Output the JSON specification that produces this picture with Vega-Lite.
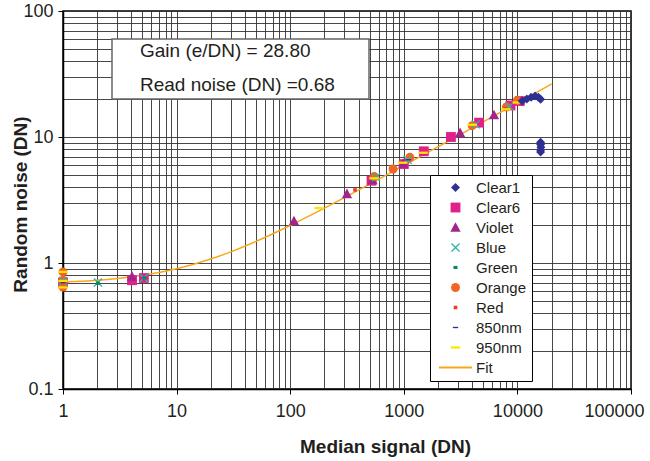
{
  "$schema": "https://vega.github.io/schema/vega-lite/v6.json",
  "width": 568,
  "height": 378,
  "autosize": {"type": "none"},
  "padding": {"left": 63, "top": 11, "right": 19, "bottom": 72},
  "background": "white",
  "datasets": {
    "pts": [
      {"series": "Clear6", "signal": 1, "noise": 0.70},
      {"series": "Clear6", "signal": 4.05, "noise": 0.73},
      {"series": "Clear6", "signal": 5.15, "noise": 0.76},
      {"series": "Clear6", "signal": 520, "noise": 4.5},
      {"series": "Clear6", "signal": 1000, "noise": 6.1},
      {"series": "Clear6", "signal": 1500, "noise": 7.7},
      {"series": "Clear6", "signal": 2600, "noise": 10.0},
      {"series": "Clear6", "signal": 4600, "noise": 13.0},
      {"series": "Clear6", "signal": 8700, "noise": 17.8},
      {"series": "Clear6", "signal": 10500, "noise": 19.3},
      {"series": "Violet", "signal": 4.05, "noise": 0.78},
      {"series": "Violet", "signal": 108, "noise": 2.15},
      {"series": "Violet", "signal": 316, "noise": 3.53},
      {"series": "Violet", "signal": 530, "noise": 4.55},
      {"series": "Violet", "signal": 990, "noise": 6.15},
      {"series": "Violet", "signal": 3130, "noise": 10.76},
      {"series": "Violet", "signal": 6220, "noise": 14.95},
      {"series": "Orange", "signal": 1, "noise": 0.85},
      {"series": "Orange", "signal": 1, "noise": 0.73},
      {"series": "Orange", "signal": 1, "noise": 0.645},
      {"series": "Orange", "signal": 550, "noise": 4.85},
      {"series": "Orange", "signal": 804, "noise": 5.57},
      {"series": "Orange", "signal": 1130, "noise": 6.9},
      {"series": "Orange", "signal": 4000, "noise": 12.3},
      {"series": "Orange", "signal": 8000, "noise": 17.3},
      {"series": "Orange", "signal": 10000, "noise": 19.5},
      {"series": "Blue", "signal": 1, "noise": 0.72},
      {"series": "Blue", "signal": 2.03, "noise": 0.70},
      {"series": "Blue", "signal": 5.15, "noise": 0.76},
      {"series": "Blue", "signal": 570, "noise": 4.8},
      {"series": "Blue", "signal": 1080, "noise": 6.6},
      {"series": "Blue", "signal": 4300, "noise": 12.6},
      {"series": "Blue", "signal": 8500, "noise": 17.5},
      {"series": "Green", "signal": 2.03, "noise": 0.69},
      {"series": "Green", "signal": 5.2, "noise": 0.76},
      {"series": "Red", "signal": 1, "noise": 0.70},
      {"series": "Red", "signal": 372, "noise": 3.8},
      {"series": "Red", "signal": 7800, "noise": 16.8},
      {"series": "850nm", "signal": 1, "noise": 0.70},
      {"series": "850nm", "signal": 1100, "noise": 6.6},
      {"series": "950nm", "signal": 1, "noise": 0.85},
      {"series": "950nm", "signal": 1, "noise": 0.72},
      {"series": "950nm", "signal": 1, "noise": 0.64},
      {"series": "950nm", "signal": 179, "noise": 2.73},
      {"series": "950nm", "signal": 545, "noise": 4.7},
      {"series": "950nm", "signal": 980, "noise": 6.25},
      {"series": "950nm", "signal": 1480, "noise": 7.5},
      {"series": "950nm", "signal": 4000, "noise": 12.5},
      {"series": "950nm", "signal": 7900, "noise": 16.6},
      {"series": "950nm", "signal": 10000, "noise": 18.8},
      {"series": "Clear1", "signal": 11000, "noise": 19.3},
      {"series": "Clear1", "signal": 12100, "noise": 20.0},
      {"series": "Clear1", "signal": 13200, "noise": 20.7},
      {"series": "Clear1", "signal": 14300, "noise": 21.2},
      {"series": "Clear1", "signal": 15300, "noise": 20.7},
      {"series": "Clear1", "signal": 16000, "noise": 19.9},
      {"series": "Clear1", "signal": 16000, "noise": 9.1},
      {"series": "Clear1", "signal": 16000, "noise": 8.7},
      {"series": "Clear1", "signal": 16100, "noise": 8.3},
      {"series": "Clear1", "signal": 16000, "noise": 7.9},
      {"series": "Clear1", "signal": 16000, "noise": 7.6}
    ],
    "fit": [
      {"signal": 1, "noise": 0.705},
      {"signal": 2, "noise": 0.729},
      {"signal": 3, "noise": 0.753},
      {"signal": 5, "noise": 0.798},
      {"signal": 10, "noise": 0.900},
      {"signal": 20, "noise": 1.076},
      {"signal": 30, "noise": 1.226},
      {"signal": 50, "noise": 1.483},
      {"signal": 100, "noise": 1.984},
      {"signal": 200, "noise": 2.722},
      {"signal": 300, "noise": 3.298},
      {"signal": 500, "noise": 4.222},
      {"signal": 1000, "noise": 5.931},
      {"signal": 2000, "noise": 8.361},
      {"signal": 3000, "noise": 10.229},
      {"signal": 5000, "noise": 13.19},
      {"signal": 7000, "noise": 15.605},
      {"signal": 10000, "noise": 18.65},
      {"signal": 15000, "noise": 22.83},
      {"signal": 20000, "noise": 26.36}
    ],
    "box": [
      {"signal": 2.7, "signal2": 494, "noise": 20, "noise2": 60}
    ],
    "notes": [
      {"signal": 4.76, "noise": 48.2, "text": "Gain (e/DN) = 28.80"},
      {"signal": 4.76, "noise": 25.9, "text": "Read noise (DN) =0.68"}
    ]
  },
  "encoding": {
    "x": {
      "field": "signal",
      "type": "quantitative",
      "scale": {"type": "log", "domain": [1, 100000], "nice": false},
      "axis": {
        "title": "Median signal (DN)",
        "values": [1,2,3,4,5,6,7,8,9,10,20,30,40,50,60,70,80,90,100,200,300,400,500,600,700,800,900,1000,2000,3000,4000,5000,6000,7000,8000,9000,10000,20000,30000,40000,50000,60000,70000,80000,90000,100000],
        "labelExpr": "abs(log(datum.value)/LN10 - round(log(datum.value)/LN10)) < 0.001 ? format(datum.value, '~g') : ''",
        "labelOffset": {"condition": {"test": "datum.value > 50000", "value": -17}, "value": 0},
        "tickOpacity": {"condition": {"test": "abs(log(datum.value)/LN10 - round(log(datum.value)/LN10)) < 0.001", "value": 1}, "value": 0},
        "tickSize": 5,
        "labelPadding": 8,
        "titleX": 322,
        "titleY": 63,
        "titleBaseline": "alphabetic",
        "titleAlign": "center"
      }
    },
    "y": {
      "field": "noise",
      "type": "quantitative",
      "scale": {"type": "log", "domain": [0.1, 100], "nice": false},
      "axis": {
        "title": "Random noise (DN)",
        "values": [0.1,0.2,0.3,0.4,0.5,0.6,0.7,0.8,0.9,1,2,3,4,5,6,7,8,9,10,20,30,40,50,60,70,80,90,100],
        "labelExpr": "abs(log(datum.value)/LN10 - round(log(datum.value)/LN10)) < 0.001 ? format(datum.value, '~g') : ''",
        "tickOpacity": {"condition": {"test": "abs(log(datum.value)/LN10 - round(log(datum.value)/LN10)) < 0.001", "value": 1}, "value": 0},
        "tickSize": 5,
        "labelPadding": 5,
        "titleX": -43,
        "titleY": 193,
        "titleAngle": 270,
        "titleBaseline": "middle",
        "titleAlign": "center"
      }
    }
  },
  "layer": [
    {
      "data": {"name": "box"},
      "mark": {"type": "rect", "fill": "white", "stroke": "#666666", "strokeWidth": 1.5},
      "encoding": {
        "x2": {"field": "signal2"},
        "y2": {"field": "noise2"}
      }
    },
    {
      "data": {"name": "notes"},
      "mark": {"type": "text", "align": "left", "baseline": "middle", "font": "Liberation Sans", "fontSize": 19, "color": "#231F20"},
      "encoding": {
        "text": {"field": "text"}
      }
    },
    {
      "data": {"name": "fit"},
      "mark": {"type": "line", "stroke": "#F9A61A", "strokeWidth": 1.5, "interpolate": "monotone"},
      "encoding": {}
    },
    {
      "data": {"name": "pts"},
      "mark": {"type": "point", "filled": true, "size": 80, "opacity": 1, "strokeWidth": 0},
      "encoding": {
        "color": {
          "field": "series",
          "type": "nominal",
          "title": null,
          "scale": {
            "domain": ["Clear1","Clear6","Violet","Blue","Green","Orange","Red","850nm","950nm","Fit"],
            "range": ["#2E3192","#E0218A","#A3248C","#2BB5AA","#0A8A5C","#F26522","#EE3B2B","#2E3192","#FFE500","#F9A61A"]
          }
        },
        "shape": {
          "field": "series",
          "type": "nominal",
          "title": null,
          "scale": {
            "domain": ["Clear1","Clear6","Violet","Blue","Green","Orange","Red","850nm","950nm","Fit"],
            "range": [
              "diamond",
              "M-1.1,-1.1H1.1V1.1H-1.1Z",
              "M0,-1.2L1.15,0.95H-1.15Z",
              "M-1,-0.8L-0.8,-1L0,-0.2L0.8,-1L1,-0.8L0.2,0L1,0.8L0.8,1L0,0.2L-0.8,1L-1,0.8L-0.2,0Z",
              "M-0.45,-0.35H0.45V0.35H-0.45Z",
              "circle",
              "M-0.4,-0.4H0.4V0.4H-0.4Z",
              "M-0.6,-0.15H0.6V0.15H-0.6Z",
              "M-1.05,-0.25H1.05V0.25H-1.05Z",
              "M-3.7,-0.2H3.7V0.2H-3.7Z"
            ]
          }
        }
      }
    }
  ],
  "config": {
    "view": {"stroke": "black", "strokeWidth": 1.5},
    "axis": {
      "grid": true,
      "gridColor": "#333333",
      "gridWidth": 1,
      "gridOpacity": 0.9,
      "domainColor": "black",
      "domainWidth": 1.5,
      "tickColor": "black",
      "labelFont": "Liberation Sans",
      "labelFontSize": 18,
      "labelColor": "#231F20",
      "labelOverlap": false,
      "labelBound": false,
      "labelFlush": false,
      "titleFont": "Liberation Sans",
      "titleFontSize": 19,
      "titleFontWeight": "bold",
      "titleColor": "#231F20"
    },
    "legend": {
      "orient": "none",
      "legendX": 367,
      "legendY": 164,
      "strokeColor": "black",
      "fillColor": "white",
      "padding": 5,
      "labelFont": "Liberation Sans",
      "labelFontSize": 15,
      "labelColor": "#231F20",
      "symbolSize": 80,
      "symbolStrokeWidth": 0,
      "symbolOffset": 13,
      "labelOffset": 13,
      "rowPadding": 4,
      "labelExpr": "datum.label + '\u00a0\u00a0'"
    }
  }
}
